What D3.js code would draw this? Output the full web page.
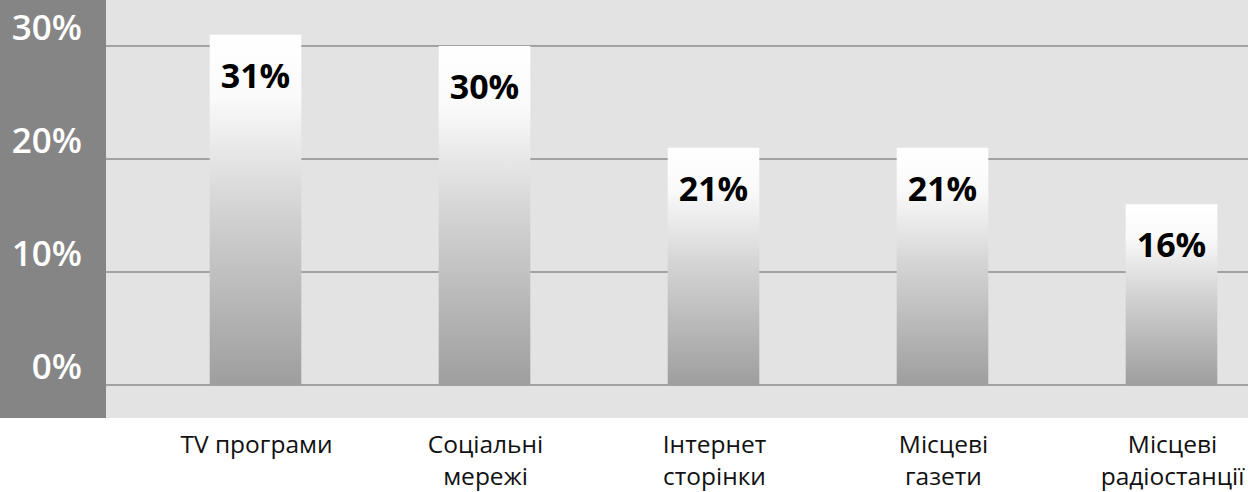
<!DOCTYPE html>
<html lang="uk">
<head>
<meta charset="UTF-8">
<title>Джерела інформації</title>
<script src="https://cdn.jsdelivr.net/npm/d3@7"></script>
<style>
  body { margin: 0; background: #fff; }
  svg { display: block; font-family: "Open Sans", "Noto Sans", sans-serif; }
</style>
</head>
<body>
<svg id="chart" width="1248" height="492"></svg>
<script>
// chart data
const categories = ["TV програми", "Соціальні мережі", "Інтернет сторінки", "Місцеві газети", "Місцеві радіостанції"];
const labelLines = [["TV програми"], ["Соціальні", "мережі"], ["Інтернет", "сторінки"], ["Місцеві", "газети"], ["Місцеві", "радіостанції"]];
const values = [31, 30, 21, 21, 16];
const yTicks = [0, 10, 20, 30];

const svg = d3.select("#chart");
const width = +svg.attr("width");
const plot = { left: 106, top: 0, bottom: 418 };

const x = d3.scaleBand()
  .domain(categories)
  .range([141, 1286])
  .paddingInner(0.6)
  .paddingOuter(0.3);

const y = d3.scaleLinear()
  .domain([0, 30])
  .range([385, 46]);

// gradient for bars
const grad = svg.append("defs").append("linearGradient")
  .attr("id", "barGrad")
  .attr("x1", 0).attr("y1", 0).attr("x2", 0).attr("y2", 1);
grad.append("stop").attr("offset", "0%").attr("stop-color", "#ffffff");
grad.append("stop").attr("offset", "18%").attr("stop-color", "#fafafa");
grad.append("stop").attr("offset", "50%").attr("stop-color", "#d3d3d3");
grad.append("stop").attr("offset", "100%").attr("stop-color", "#9e9e9e");

// backgrounds
svg.append("rect")
  .attr("x", 0).attr("y", 0)
  .attr("width", plot.left).attr("height", plot.bottom)
  .attr("fill", "#858585");

svg.append("rect")
  .attr("x", plot.left).attr("y", 0)
  .attr("width", width - plot.left).attr("height", plot.bottom)
  .attr("fill", "#e3e3e3");

// gridlines
svg.append("g")
  .selectAll("line")
  .data(yTicks)
  .join("line")
  .attr("x1", plot.left).attr("x2", width)
  .attr("y1", d => y(d)).attr("y2", d => y(d))
  .attr("stroke", "#a2a2a2")
  .attr("stroke-width", 2);

// y labels
svg.append("g")
  .selectAll("text")
  .data(yTicks)
  .join("text")
  .attr("x", 82)
  .attr("y", d => y(d) - 6)
  .attr("text-anchor", "end")
  .attr("fill", "#fff")
  .attr("font-size", 35)
  .attr("font-weight", 600)
  .text(d => d + "%");

// bars
svg.append("g")
  .selectAll("rect")
  .data(values)
  .join("rect")
  .attr("x", (d, i) => x(categories[i]))
  .attr("y", d => y(d))
  .attr("width", x.bandwidth())
  .attr("height", d => y(0) - y(d))
  .attr("fill", "url(#barGrad)");

// value labels
svg.append("g")
  .selectAll("text")
  .data(values)
  .join("text")
  .attr("x", (d, i) => x(categories[i]) + x.bandwidth() / 2)
  .attr("y", d => y(d) + 53)
  .attr("text-anchor", "middle")
  .attr("fill", "#000")
  .attr("font-size", 34)
  .attr("font-weight", 700)
  .text(d => d + "%");

// category labels
const cat = svg.append("g")
  .selectAll("text")
  .data(labelLines)
  .join("text")
  .attr("x", (d, i) => x(categories[i]) + x.bandwidth() / 2 + 1)
  .attr("y", 453)
  .attr("text-anchor", "middle")
  .attr("fill", "#111")
  .attr("font-size", 24.5);

cat.selectAll("tspan")
  .data(d => d)
  .join("tspan")
  .attr("x", function () { return d3.select(this.parentNode).attr("x"); })
  .attr("dy", (d, i) => i === 0 ? 0 : 32)
  .text(d => d);
</script>
</body>
</html>
